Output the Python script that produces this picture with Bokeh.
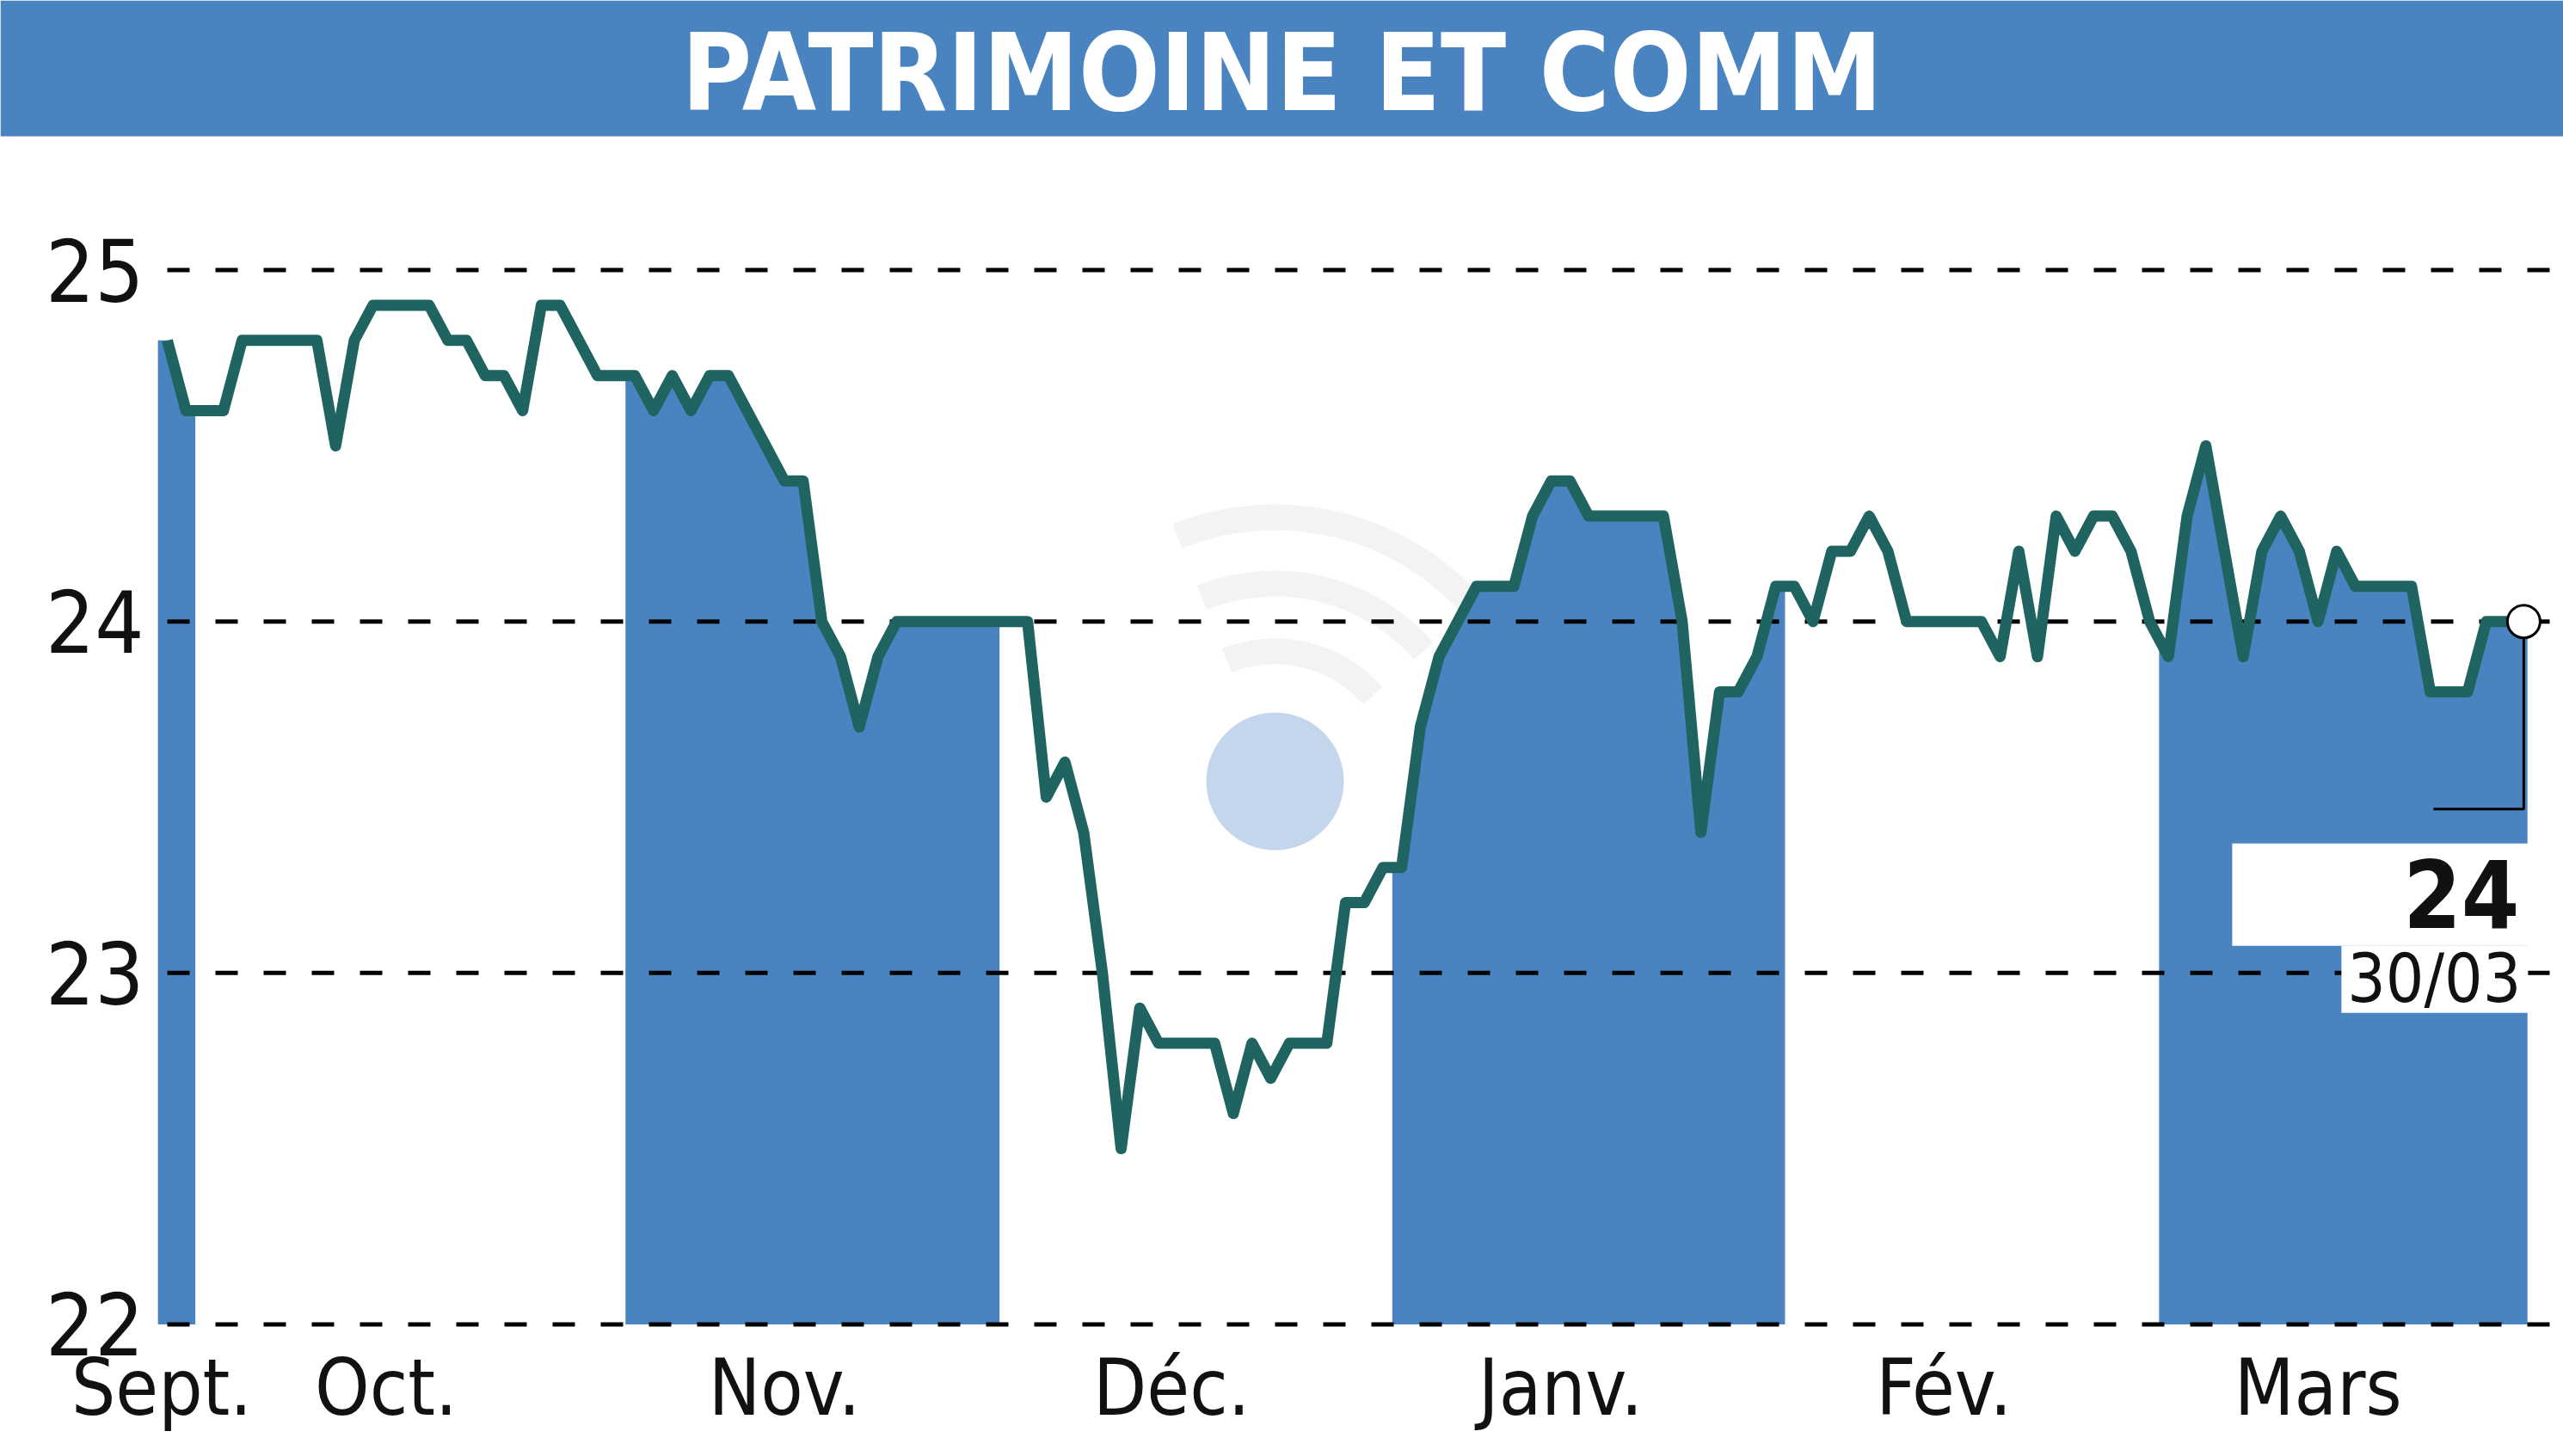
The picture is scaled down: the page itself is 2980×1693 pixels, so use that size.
import numpy as np
from bokeh.plotting import figure
from bokeh.models import Range1d, Label
from bokeh.core.properties import value
from bokeh.embed import file_html
from bokeh.resources import INLINE

# ---------------- data ----------------
TITLE = "PATRIMOINE ET COMM"
VALUES = [
    24.8, 24.6, 24.6, 24.6, 24.8, 24.8, 24.8, 24.8, 24.8, 24.5,
    24.8, 24.9, 24.9, 24.9, 24.9, 24.8, 24.8, 24.7, 24.7, 24.6,
    24.9, 24.9, 24.8, 24.7, 24.7, 24.7, 24.6, 24.7, 24.6, 24.7,
    24.7, 24.6, 24.5, 24.4, 24.4, 24.0, 23.9, 23.7, 23.9, 24.0,
    24.0, 24.0, 24.0, 24.0, 24.0, 24.0, 24.0, 23.5, 23.6, 23.4,
    23.0, 22.5, 22.9, 22.8, 22.8, 22.8, 22.8, 22.6, 22.8, 22.7,
    22.8, 22.8, 22.8, 23.2, 23.2, 23.3, 23.3, 23.7, 23.9, 24.0,
    24.1, 24.1, 24.1, 24.3, 24.4, 24.4, 24.3, 24.3, 24.3, 24.3,
    24.3, 24.0, 23.4, 23.8, 23.8, 23.9, 24.1, 24.1, 24.0, 24.2,
    24.2, 24.3, 24.2, 24.0, 24.0, 24.0, 24.0, 24.0, 23.9, 24.2,
    23.9, 24.3, 24.2, 24.3, 24.3, 24.2, 24.0, 23.9, 24.3, 24.5,
    24.2, 23.9, 24.2, 24.3, 24.2, 24.0, 24.2, 24.1, 24.1, 24.1,
    24.1, 23.8, 23.8, 23.8, 24.0, 24.0, 24.0,
]
DAYS = list(range(len(VALUES)))
MONTHS = ["Sept.", "Oct.", "Nov.", "Déc.", "Janv.", "Fév.", "Mars"]
MONTH_START = [0, 2, 25, 45, 66, 87, 107]          # first trading-day index of each month
MONTH_LABEL_POS = [-0.3, 11.7, 33, 53.7, 74.5, 95, 115]
SHADED = [True, False, True, False, True, False, True]
Y_TICKS = [22, 23, 24, 25]
Y_LABELS = ["22", "23", "24", "25"]
LAST_DATE = "30/03"

# ---------------- style / layout ----------------
BLUE = "#4a84c0"
LINE = "#1f6461"
FONT = "'DejaVu Sans Condensed', 'Liberation Sans Narrow', 'Roboto Condensed', sans-serif"
W, H = 2980, 1693
PX_X = 21.745            # pixels per trading day
PX_Y = 408.6             # pixels per price unit
X0 = -194 / PX_X
X1 = X0 + W / PX_X
Y1 = 25 + 313.6 / PX_Y
Y0 = Y1 - H / PX_Y


def sx(px):
    return X0 + px / PX_X


def sy(py):
    return Y1 - py / PX_Y


p = figure(width=W, height=H, x_range=Range1d(X0, X1), y_range=Range1d(Y0, Y1),
           toolbar_location=None, output_backend="svg", min_border=0,
           x_axis_location=None, y_axis_location=None)
p.grid.visible = False
p.outline_line_color = None
p.background_fill_color = "white"
p.border_fill_color = "white"

# title bar
p.quad(left=[X0], right=[X1], top=[Y1], bottom=[sy(158)], fill_color=BLUE, line_color=None,
       level="image")
p.text(x=[sx(1490)], y=[sy(84)], text=[TITLE], text_align="center", text_baseline="middle",
       text_color="white", text_font=value(FONT), text_font_style="bold", text_font_size="124px")

# watermark logo (decorative)
wm_x, wm_y = sx(1482), sy(908)
for r in (151, 230, 307):
    p.arc(x=[wm_x], y=[wm_y], radius=r, radius_units="screen", start_angle=0.72,
          end_angle=1.95, line_color="#f2f3f2", line_width=30, level="image")
p.scatter(x=[wm_x], y=[wm_y], size=160, fill_color="#c4d6ec", line_color=None, level="image")

# shaded months: area under the curve
n = len(VALUES)
for i, shaded in enumerate(SHADED):
    if not shaded:
        continue
    a = MONTH_START[i] - 0.5
    end = (MONTH_START[i + 1] - 1) if i + 1 < len(MONTH_START) else n - 1
    b = min(end + 0.5, n - 1 + 0.2)
    xs = [a] + [d for d in DAYS if a < d < b] + [b]
    ys = list(np.interp(xs, DAYS, VALUES))
    p.varea(x=xs, y1=[Y_TICKS[0]] * len(xs), y2=ys, fill_color=BLUE, level="image")

# dashed horizontal grid
p.segment(x0=[sx(194)] * len(Y_TICKS), y0=Y_TICKS, x1=[X1] * len(Y_TICKS), y1=Y_TICKS,
          line_color="black", line_width=5, line_dash="26 30", level="underlay")

# price line
p.line(DAYS, VALUES, line_color=LINE, line_width=13, line_join="round")

# y tick labels
p.text(x=[sx(167)] * len(Y_TICKS), y=Y_TICKS, text=Y_LABELS, text_align="right",
       text_baseline="middle", text_font=value(FONT), text_font_size="100px", text_color="#111111")

# month labels
p.text(x=MONTH_LABEL_POS, y=[sy(1613)] * len(MONTHS), text=MONTHS, text_align="center",
       text_baseline="middle", text_font=value(FONT), text_font_size="90px",
       text_color="#111111")

# last value annotation
lx, ly = DAYS[-1], VALUES[-1]
p.quad(left=[lx - 339 / PX_X], right=[lx + 5 / PX_X], top=[ly - 258 / PX_Y], bottom=[ly - 377 / PX_Y],
       fill_color="white", line_color=None)
p.quad(left=[lx - 212 / PX_X], right=[lx + 5 / PX_X], top=[ly - 377 / PX_Y], bottom=[ly - 455 / PX_Y],
       fill_color="white", line_color=None)
p.line([lx, lx, lx - 105 / PX_X], [ly - 18 / PX_Y, ly - 218 / PX_Y, ly - 218 / PX_Y],
       line_color="black", line_width=3)
p.scatter([lx], [ly], size=38, fill_color="white", line_color="black", line_width=3)
p.add_layout(Label(x=lx, y=ly, x_offset=-5, y_offset=-316, text=f"{ly:g}", text_align="right",
                   text_baseline="middle", text_font=FONT, text_font_style="bold",
                   text_font_size="108px", text_color="#111111"))
p.add_layout(Label(x=lx, y=ly, x_offset=-3, y_offset=-415, text=LAST_DATE, text_align="right",
                   text_baseline="middle", text_font=FONT,
                   text_font_size="78px", text_color="#111111"))

open("out.html", "w").write(file_html(p, INLINE))
